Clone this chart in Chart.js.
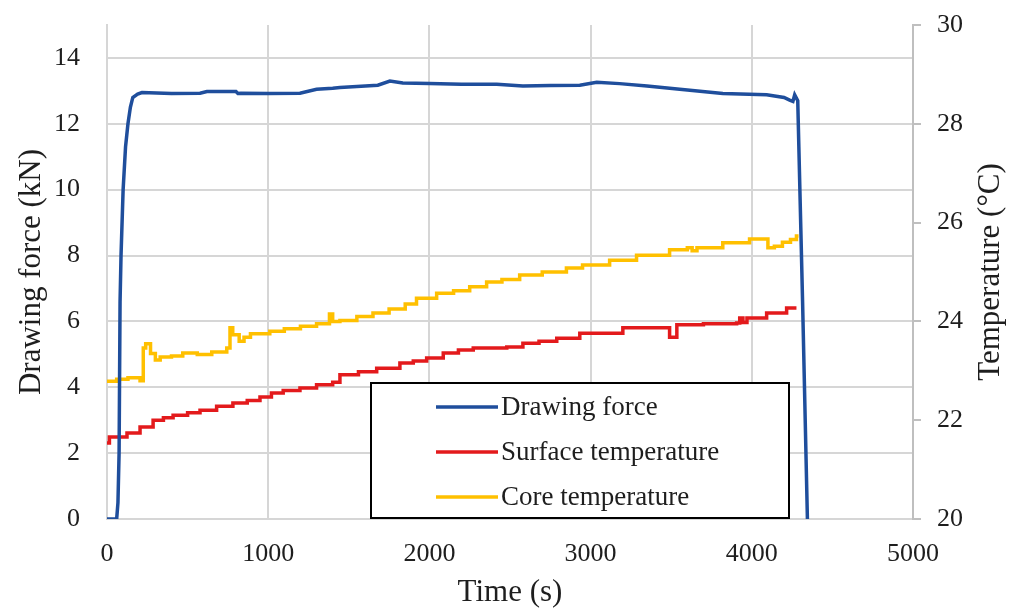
<!DOCTYPE html>
<html>
<head>
<meta charset="utf-8">
<script src="https://cdn.jsdelivr.net/npm/chart.js@4"></script>
<style>
  html, body { margin: 0; padding: 0; background: #fff; }
  #wrap { width: 1019px; height: 608px; }
</style>
</head>
<body>
<div id="wrap"><canvas id="chart" width="1019" height="608"></canvas></div>
<script>
// drawing force (kN) vs time (s)
let forceTime = [0, 60, 68, 75, 81, 87, 100, 115, 130, 145, 160, 190, 217, 400, 577, 620, 800, 812, 830, 1000, 1197, 1300, 1400, 1445, 1550, 1680, 1755, 1835, 2000, 2200, 2418, 2580, 2750, 2933, 3038, 3180, 3350, 3553, 3820, 4092, 4200, 4235, 4255, 4266, 4285, 4315, 4345];
let forceVal = [0, 0, 0.5, 2, 6.6, 8, 10, 11.3, 12, 12.5, 12.8, 12.9, 12.95, 12.92, 12.93, 12.98, 12.98, 12.92, 12.93, 12.92, 12.93, 13.05, 13.08, 13.1, 13.13, 13.17, 13.3, 13.24, 13.22, 13.2, 13.2, 13.15, 13.16, 13.17, 13.26, 13.22, 13.15, 13.05, 12.92, 12.88, 12.8, 12.72, 12.68, 12.88, 12.7, 6.6, 0];

// surface temperature (°C), stepped
let surfTime = [0, 15, 124, 205, 286, 350, 410, 500, 577, 680, 781, 870, 949, 1020, 1093, 1197, 1300, 1400, 1445, 1560, 1673, 1817, 1900, 1983, 2086, 2180, 2272, 2480, 2580, 2680, 2790, 2933, 3200, 3470, 3490, 3535, 3700, 3906, 3925, 3945, 3970, 4092, 4216, 4277];
let surfVal = [21.54, 21.66, 21.74, 21.86, 22.0, 22.05, 22.1, 22.15, 22.2, 22.28, 22.35, 22.4, 22.47, 22.55, 22.6, 22.65, 22.72, 22.77, 22.92, 22.98, 23.05, 23.16, 23.2, 23.26, 23.36, 23.42, 23.46, 23.48, 23.56, 23.6, 23.66, 23.76, 23.87, 23.87, 23.68, 23.93, 23.95, 23.97, 24.07, 23.98, 24.07, 24.17, 24.27, 24.27];

// core temperature (°C), stepped
let coreTime = [0, 60, 130, 205, 225, 240, 270, 300, 330, 400, 470, 560, 650, 743, 763, 780, 820, 850, 890, 1010, 1100, 1200, 1300, 1380, 1400, 1445, 1550, 1650, 1750, 1850, 1920, 2045, 2150, 2250, 2355, 2450, 2560, 2700, 2850, 2950, 3118, 3285, 3490, 3600, 3630, 3660, 3820, 3986, 4100, 4140, 4190, 4240, 4277, 4290];
let coreVal = [22.79, 22.83, 22.86, 22.8, 23.46, 23.55, 23.35, 23.22, 23.28, 23.3, 23.36, 23.33, 23.38, 23.46, 23.87, 23.73, 23.6, 23.68, 23.75, 23.8, 23.85, 23.9, 23.95, 24.15, 24.0, 24.02, 24.1, 24.17, 24.25, 24.35, 24.47, 24.57, 24.62, 24.7, 24.8, 24.85, 24.94, 25.0, 25.08, 25.14, 25.24, 25.34, 25.45, 25.49, 25.43, 25.49, 25.59, 25.67, 25.49, 25.52, 25.6, 25.66, 25.73, 25.73];

let labels = ["Drawing force", "Surface temperature", "Core temperature"];
let colors = ["#1f4e9c", "#e31a1c", "#ffc000"];

function pts(t, v) {
    return t.map((x, i) => { return { x: x, y: v[i] } });
}

const serif = "'Liberation Serif', 'Times New Roman', serif";
const gridCol = "#d6d6d6";
const textCol = "#1e1e1e";

// legend box drawn inside the plot, plus the right axis title (reads bottom to top)
const boxLegend = {
    id: "boxLegend",
    afterDatasetsDraw(chart) {
        let ctx = chart.ctx;
        let x0 = 371, y0 = 383, x1 = 789, y1 = 518;
        ctx.save();
        ctx.fillStyle = "#fff";
        ctx.fillRect(x0, y0, x1 - x0, y1 - y0);
        ctx.strokeStyle = "#000";
        ctx.lineWidth = 2;
        ctx.strokeRect(x0, y0, x1 - x0, y1 - y0);
        ctx.font = "27px " + serif;
        ctx.textBaseline = "middle";
        ctx.fillStyle = textCol;
        chart.data.datasets.forEach((ds, i) => {
            let y = 407 + i * 45;
            ctx.strokeStyle = ds.borderColor;
            ctx.lineWidth = 3.5;
            ctx.beginPath();
            ctx.moveTo(436, y);
            ctx.lineTo(498, y);
            ctx.stroke();
            ctx.fillText(ds.label, 501, y + 1);
        });

        let y2 = chart.scales.y2;
        ctx.translate(991, (y2.top + y2.bottom) / 2);
        ctx.rotate(-Math.PI / 2);
        ctx.font = "31px " + serif;
        ctx.textAlign = "center";
        ctx.fillText("Temperature (°C)", 0, 0);
        ctx.restore();
    }
};

const tickFont = { family: serif, size: 26 };
const titleFont = { family: serif, size: 31, lineHeight: 1 };

// fixed box sizes so the plot area lands where the original has it
function fitY(w) {
    return (s) => { s.width = w; s.paddingTop = 0; s.paddingBottom = 0; };
}

new Chart(document.getElementById("chart"), {
    type: "line",
    data: {
        datasets: [{
            label: labels[0],
            data: pts(forceTime, forceVal),
            borderColor: colors[0],
            borderWidth: 3.5,
            yAxisID: "y"
        }, {
            label: labels[1],
            data: pts(surfTime, surfVal),
            borderColor: colors[1],
            borderWidth: 3.5,
            stepped: true,
            yAxisID: "y2"
        }, {
            label: labels[2],
            data: pts(coreTime, coreVal),
            borderColor: colors[2],
            borderWidth: 3.5,
            stepped: true,
            yAxisID: "y2"
        }]
    },
    options: {
        responsive: false,
        animation: false,
        layout: { padding: { top: 25 } },
        elements: { point: { radius: 0 }, line: { tension: 0 } },
        plugins: {
            legend: { display: false },
            tooltip: { enabled: false }
        },
        scales: {
            x: {
                type: "linear",
                min: 0,
                max: 5000,
                afterFit: (s) => { s.height = 89; s.paddingLeft = 0; s.paddingRight = 0; },
                ticks: {
                    stepSize: 1000,
                    padding: 20,
                    color: textCol,
                    font: tickFont,
                    callback: (v) => String(v)
                },
                grid: { color: gridCol, lineWidth: 2, drawTicks: false },
                border: { color: gridCol, width: 2 },
                title: {
                    display: true,
                    text: "Time (s)",
                    color: textCol,
                    font: titleFont,
                    padding: { top: 0, bottom: 0 }
                }
            },
            y: {
                position: "left",
                min: 0,
                max: 15,
                afterFit: fitY(107),
                ticks: {
                    stepSize: 2,
                    includeBounds: false,
                    padding: 27,
                    color: textCol,
                    font: tickFont
                },
                grid: { color: gridCol, lineWidth: 2, drawTicks: false },
                border: { color: gridCol, width: 2 },
                title: {
                    display: true,
                    text: "Drawing force (kN)",
                    color: textCol,
                    font: titleFont,
                    padding: { top: 16, bottom: 0 }
                }
            },
            y2: {
                position: "right",
                min: 20,
                max: 30,
                afterFit: fitY(106),
                ticks: {
                    stepSize: 2,
                    padding: 16,
                    color: textCol,
                    font: tickFont
                },
                grid: { drawOnChartArea: false, color: "#bfbfbf", lineWidth: 2, tickLength: 8 },
                border: { color: "#bfbfbf", width: 2 }
            }
        }
    },
    plugins: [boxLegend]
});
</script>
</body>
</html>
